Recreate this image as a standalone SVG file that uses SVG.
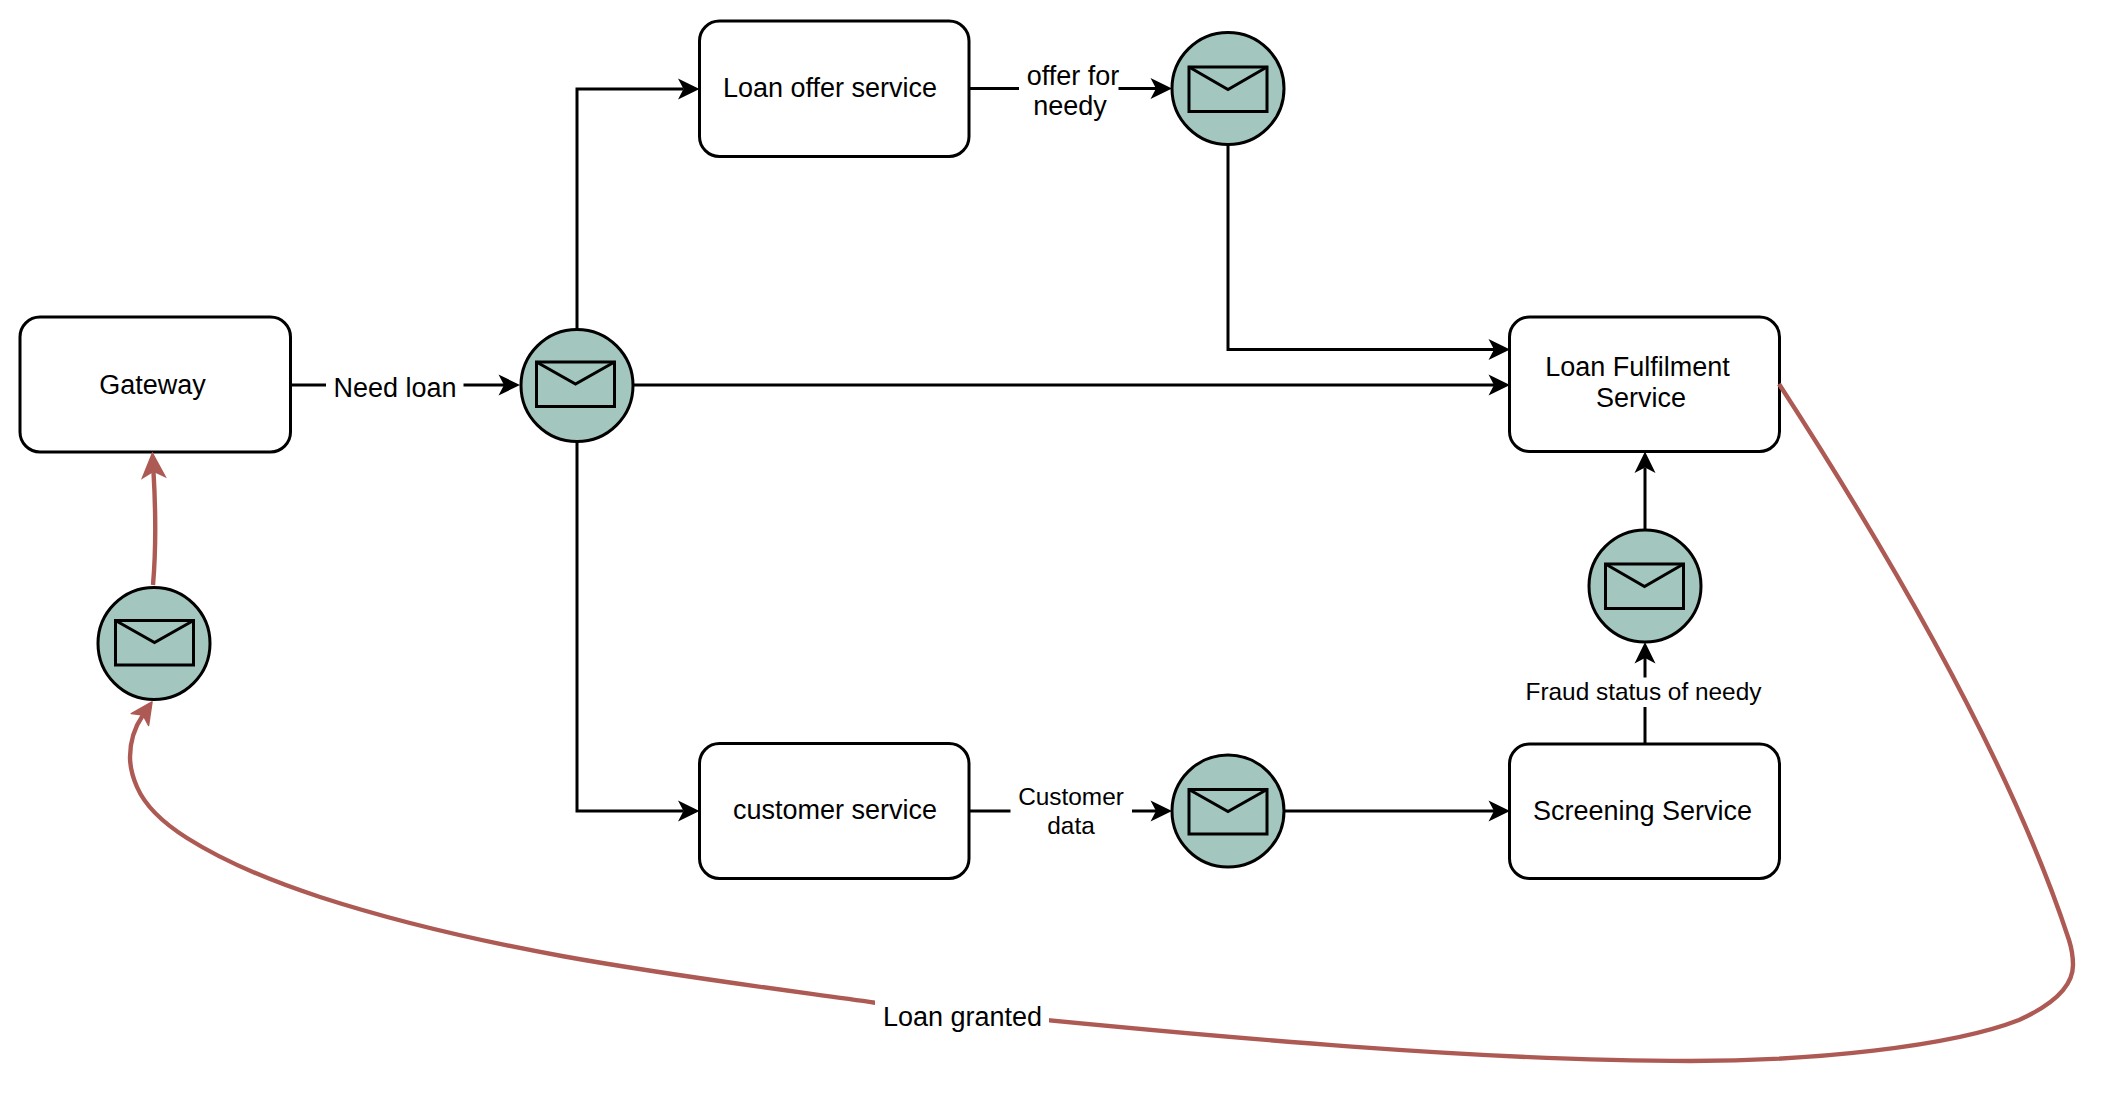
<svg xmlns="http://www.w3.org/2000/svg" width="2126" height="1096" viewBox="0 0 2126 1096">
<style>
.bg{fill:#fff}
.box{fill:#fff;stroke:#000;stroke-width:3}
.cir{fill:#a3c6be;stroke:#000;stroke-width:3}
.env{fill:#a3c6be;stroke:#000;stroke-width:3}
.flap{fill:none;stroke:#000;stroke-width:3}
.ln{fill:none;stroke:#000;stroke-width:3}
.red{fill:none;stroke:#ae5a54;stroke-width:4.400}
text{font-family:"Liberation Sans",Arial,sans-serif;font-size:27px;fill:#000;text-anchor:middle}
text.s{font-size:24.400px}
</style>
<defs>
<marker id="ab" markerUnits="userSpaceOnUse" markerWidth="30" markerHeight="30" viewBox="-2 -15 28 30" refX="5.500" refY="0" orient="auto"><path d="M0,-10.500L21.500,0L0,10.500L5.500,0Z" fill="#000"/></marker>
<marker id="ar" markerUnits="userSpaceOnUse" markerWidth="36" markerHeight="36" viewBox="-2 -18 34 36" refX="7" refY="0" orient="auto"><path d="M0,-13L27.500,0L0,13L7,0Z" fill="#ae5a54"/></marker>
<marker id="ars" markerUnits="userSpaceOnUse" markerWidth="30" markerHeight="30" viewBox="-2 -15 28 30" refX="5.500" refY="0" orient="auto"><path d="M0,-10.500L21.500,0L0,10.500L5.500,0Z" fill="#ae5a54" stroke="#ae5a54" stroke-width="1.500" stroke-linejoin="round"/></marker>
</defs>
<rect class="bg" width="2126" height="1096"/>
<g id="gateway"><rect class="box" x="20" y="317" width="270.500" height="135" rx="20"/><text x="152.500" y="394">Gateway</text></g>
<g id="loan-offer-service"><rect class="box" x="699.500" y="21" width="269.500" height="135.500" rx="20"/><text x="830" y="96.700">Loan offer service</text></g>
<g id="customer-service"><rect class="box" x="699.500" y="743.500" width="269.500" height="135" rx="20"/><text x="835" y="819.300">customer service</text></g>
<g id="loan-fulfilment-service"><rect class="box" x="1509.500" y="317" width="270" height="134.500" rx="20"/><text x="1637.500" y="376">Loan Fulfilment</text><text x="1641" y="406.700">Service</text></g>
<g id="screening-service"><rect class="box" x="1509.500" y="744" width="270" height="134.500" rx="20"/><text x="1642.500" y="819.800">Screening Service</text></g>
<g id="queue-need-loan"><circle class="cir" cx="577" cy="385.500" r="56"/><rect class="env" x="536.500" y="362" width="78" height="44.500"/><path class="flap" d="M536.500,362L575.500,384L614.500,362"/></g>
<g id="queue-loan-granted"><circle class="cir" cx="154" cy="643.500" r="56"/><rect class="env" x="115.500" y="620.500" width="78" height="44.500"/><path class="flap" d="M115.500,620.500L154.500,642.500L193.500,620.500"/></g>
<g id="queue-offer"><circle class="cir" cx="1228" cy="88.500" r="56"/><rect class="env" x="1189" y="67" width="78" height="44.500"/><path class="flap" d="M1189,67L1228,89.500L1267,67"/></g>
<g id="queue-customer"><circle class="cir" cx="1228" cy="811" r="56"/><rect class="env" x="1189" y="789.500" width="78" height="44.500"/><path class="flap" d="M1189,789.500L1228,811.500L1267,789.500"/></g>
<g id="queue-fraud"><circle class="cir" cx="1645" cy="586" r="56"/><rect class="env" x="1605.500" y="564" width="78" height="44.500"/><path class="flap" d="M1605.500,564L1644.500,586.500L1683.500,564"/></g>
<g id="connectors">
<path class="ln" d="M290,385H504" marker-end="url(#ab)"/>
<path class="ln" d="M577,330V89H683.500" marker-end="url(#ab)"/>
<path class="ln" d="M577,441V811H683.500" marker-end="url(#ab)"/>
<path class="ln" d="M633,385H1494" marker-end="url(#ab)"/>
<path class="ln" d="M969,88.500H1156" marker-end="url(#ab)"/>
<path class="ln" d="M1228,145V349.500H1494" marker-end="url(#ab)"/>
<path class="ln" d="M969,811H1156" marker-end="url(#ab)"/>
<path class="ln" d="M1284,811H1494" marker-end="url(#ab)"/>
<path class="ln" d="M1645,744V658" marker-end="url(#ab)"/>
<path class="ln" d="M1645,530V467.500" marker-end="url(#ab)"/>
<path class="red" d="M153,585C156,550 156,515 153.500,472" marker-end="url(#ar)"/>
<path class="red" d="M1779,384C1890,555 2010,760 2069,940C2071.500,948 2073,956 2073,965C2073,988 2050,1006 2019,1020C1950,1047 1810,1061 1690,1061C1500,1061 1250,1042 875,1002.700C689,976.700 499,955 320,897C274,882 228,864 187,838C167,825.400 146.400,808.700 137,787C133,777.800 130,767 130,757C130,742.400 134.800,727 143,715" marker-end="url(#ars)"/>
<rect class="bg" x="326" y="368" width="137.500" height="36"/>
<rect class="bg" x="1019" y="62" width="99.500" height="62"/>
<rect class="bg" x="1010.500" y="782" width="121.500" height="60"/>
<rect class="bg" x="1520" y="677.500" width="250" height="29.500"/>
<rect class="bg" x="875" y="1000" width="174" height="40"/>
<text x="395" y="396.700">Need loan</text>
<text x="1073" y="85">offer for</text>
<text x="1070" y="115">needy</text>
<text class="s" x="1071" y="805">Customer</text>
<text class="s" x="1071" y="833.700">data</text>
<text class="s" x="1643.500" y="700">Fraud status of needy</text>
<text x="962.500" y="1026">Loan granted</text>
</g>
</svg>
